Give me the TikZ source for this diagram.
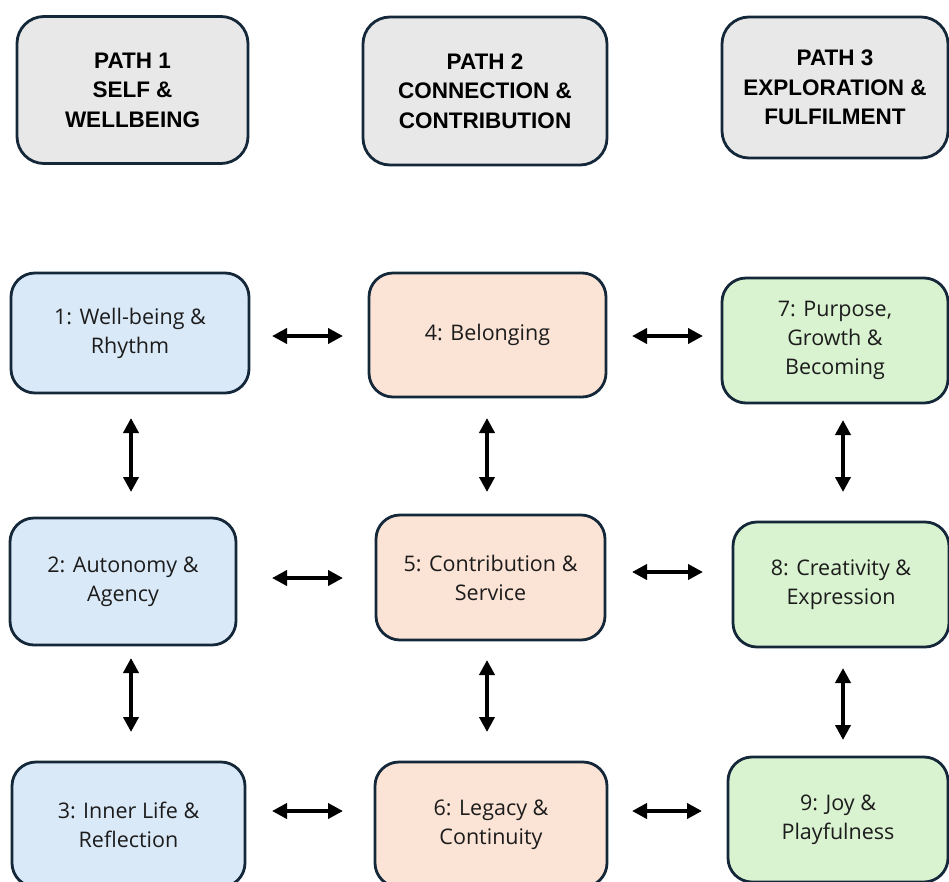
\documentclass[tikz,border=0pt]{standalone}
\usepackage{fontspec}
\setmainfont{Open Sans}
\newfontfamily\headfont{Liberation Sans}
\usetikzlibrary{arrows.meta}
\definecolor{edgecol}{HTML}{14283A}
\definecolor{headfill}{HTML}{E8E8E8}
\definecolor{bluefill}{HTML}{DAE9F8}
\definecolor{orangefill}{HTML}{FBE3D6}
\definecolor{greenfill}{HTML}{D9F2D0}
\definecolor{bodytext}{HTML}{1C1C1C}
\tikzset{
  box/.style={draw=edgecol, line width=2.8pt, rounded corners=24pt, align=center,
    inner sep=0pt, text=bodytext, font=\fontsize{21.5}{29}\selectfont},
  head/.style={box, fill=headfill, rounded corners=27pt, text=black,
    font=\headfont\bfseries\fontsize{22.5}{29.5}\selectfont},
  bluebox/.style={box, fill=bluefill},
  orangebox/.style={box, fill=orangefill},
  greenbox/.style={box, fill=greenfill},
  dbl/.style={line width=4.5pt, {Triangle[length=15pt,width=15pt]}-{Triangle[length=15pt,width=15pt]}}
}
\begin{document}
\begin{tikzpicture}[x=1pt,y=-1pt]
\useasboundingbox[fill=white] (0,0) rectangle (949,881);
% headers
\node[head, minimum width=231pt, minimum height=147pt] (h1) at (132.5,90) {PATH 1\\SELF \&\\WELLBEING};
\node[head, minimum width=244pt, minimum height=148pt] (h2) at (485,91) {PATH 2\\CONNECTION \&\\CONTRIBUTION};
\node[head, minimum width=226pt, minimum height=141pt] (h3) at (835,87.5) {PATH 3\\EXPLORATION \&\\FULFILMENT};
% row 1
\node[bluebox, minimum width=238pt, minimum height=120pt] (b1) at (130,333) {1: Well-being \&\\Rhythm};
\node[orangebox, minimum width=237pt, minimum height=124pt] (b4) at (487.5,335) {4: Belonging};
\node[greenbox, minimum width=226pt, minimum height=125pt] (b7) at (835,340.5) {7: Purpose,\\Growth \&\\Becoming};
% row 2
\node[bluebox, minimum width=226pt, minimum height=127pt] (b2) at (123,581.5) {2: Autonomy \&\\Agency};
\node[orangebox, minimum width=229pt, minimum height=125pt] (b5) at (490.5,577.5) {5: Contribution \&\\Service};
\node[greenbox, minimum width=216pt, minimum height=125pt] (b8) at (841,584.5) {8: Creativity \&\\Expression};
% row 3
\node[bluebox, minimum width=233pt, minimum height=125pt] (b3) at (128.5,824.5) {3: Inner Life \&\\Reflection};
\node[orangebox, minimum width=232pt, minimum height=125pt] (b6) at (491,824.5) {6: Legacy \&\\Continuity};
\node[greenbox, minimum width=220pt, minimum height=125pt] (b9) at (838,819.5) {9: Joy \&\\Playfulness};
% arrow end points
\coordinate (a14s) at (272,336); \coordinate (a14e) at (343,336);
\coordinate (a47s) at (632,336); \coordinate (a47e) at (703,336);
\coordinate (a25s) at (272,578); \coordinate (a25e) at (343,578);
\coordinate (a58s) at (632,572); \coordinate (a58e) at (703,572);
\coordinate (a36s) at (272,811); \coordinate (a36e) at (343,811);
\coordinate (a69s) at (632,811); \coordinate (a69e) at (702,811);
\coordinate (v12s) at (131,418); \coordinate (v12e) at (131,492);
\coordinate (v23s) at (131,658); \coordinate (v23e) at (131,732);
\coordinate (v45s) at (487,418); \coordinate (v45e) at (487,492);
\coordinate (v56s) at (487,660); \coordinate (v56e) at (487,732);
\coordinate (v78s) at (843,420); \coordinate (v78e) at (843,492);
\coordinate (v89s) at (843,668); \coordinate (v89e) at (843,740);
\foreach \a in {a14,a47,a25,a58,a36,a69,v12,v23,v45,v56,v78,v89}
  \draw[dbl] (\a s) -- (\a e);
\end{tikzpicture}
\end{document}
